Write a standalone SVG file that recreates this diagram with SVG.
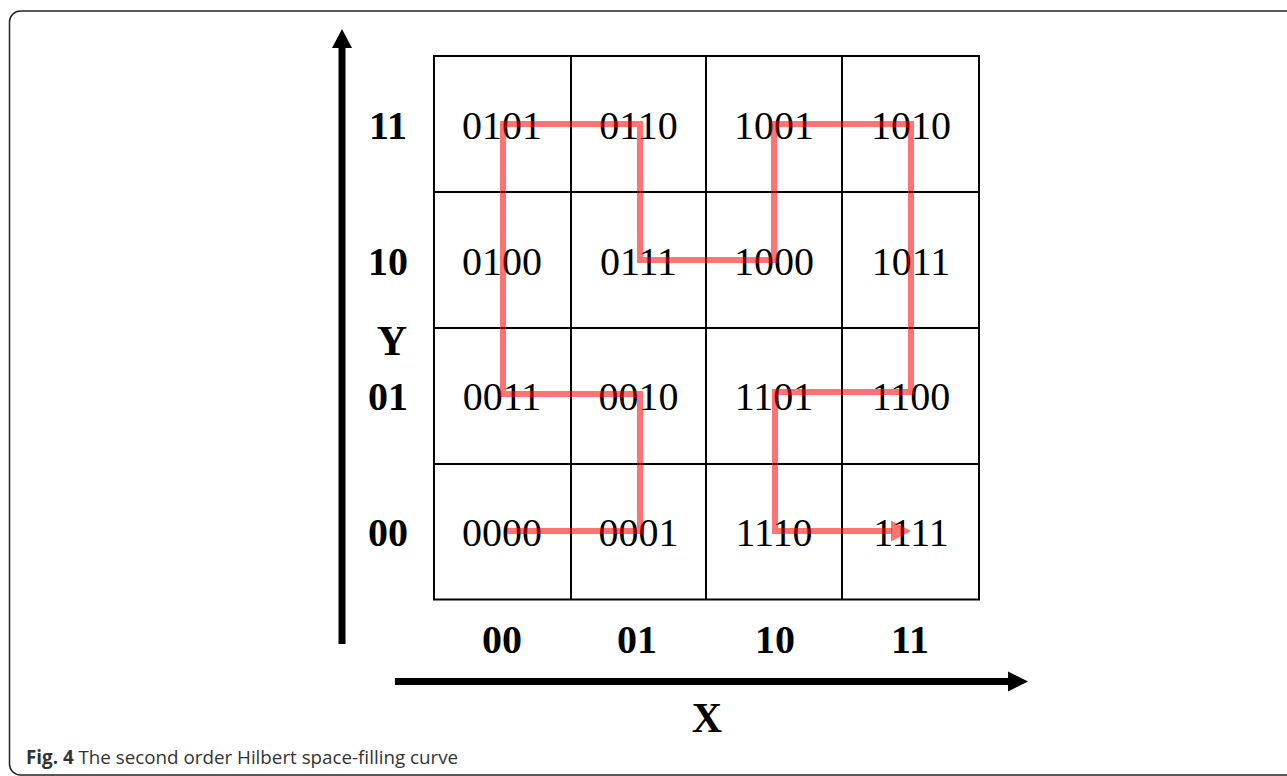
<svg xmlns="http://www.w3.org/2000/svg" width="1287" height="776" viewBox="0 0 1287 776">
  <style>
    .grid { fill: none; stroke: #000; stroke-width: 2; }
    .code { font-family: "Liberation Serif", "Times New Roman", serif; font-size: 40px; fill: #000; text-anchor: middle; }
    .lab { font-family: "Liberation Serif", "Times New Roman", serif; font-size: 40px; font-weight: bold; fill: #000; text-anchor: middle; }
    .axis { font-family: "Liberation Serif", "Times New Roman", serif; font-size: 42px; font-weight: bold; fill: #000; text-anchor: middle; }
    .curve { fill: none; stroke: #ff0000; stroke-opacity: 0.55; stroke-width: 6; stroke-linejoin: miter; }
    .cap { font-family: "Open Sans", "Noto Sans", sans-serif; font-size: 18.8px; fill: #333; }
  </style>
  <rect width="1287" height="776" fill="#fff"/>
  <rect x="9.5" y="11" width="1300" height="764" rx="11" fill="none" stroke="#222" stroke-width="1.5"/>

  <g id="grid">
    <rect class="grid" x="434" y="56" width="545" height="543.5"/>
    <line class="grid" x1="571" y1="56" x2="571" y2="599.5"/>
    <line class="grid" x1="706" y1="56" x2="706" y2="599.5"/>
    <line class="grid" x1="842" y1="56" x2="842" y2="599.5"/>
    <line class="grid" x1="434" y1="192" x2="979" y2="192"/>
    <line class="grid" x1="434" y1="328" x2="979" y2="328"/>
    <line class="grid" x1="434" y1="464" x2="979" y2="464"/>
  </g>

  <g id="cells">
    <text class="code" x="502" y="139">0101</text>
    <text class="code" x="638.5" y="139">0110</text>
    <text class="code" x="774" y="139">1001</text>
    <text class="code" x="911" y="139">1010</text>
    <text class="code" x="502" y="275">0100</text>
    <text class="code" x="638.5" y="275">0111</text>
    <text class="code" x="774" y="275">1000</text>
    <text class="code" x="911" y="275">1011</text>
    <text class="code" x="502" y="410">0011</text>
    <text class="code" x="638.5" y="410">0010</text>
    <text class="code" x="774" y="410">1101</text>
    <text class="code" x="911" y="410">1100</text>
    <text class="code" x="502" y="546">0000</text>
    <text class="code" x="638.5" y="546">0001</text>
    <text class="code" x="774" y="546">1110</text>
    <text class="code" x="911" y="546">1111</text>
  </g>

  <g id="row-labels">
    <text class="lab" x="388" y="139">11</text>
    <text class="lab" x="388" y="275">10</text>
    <text class="lab" x="388" y="410">01</text>
    <text class="lab" x="388" y="546">00</text>
  </g>
  <g id="col-labels">
    <text class="lab" x="502" y="653">00</text>
    <text class="lab" x="637" y="653">01</text>
    <text class="lab" x="775" y="653">10</text>
    <text class="lab" x="910" y="653">11</text>
  </g>

  <g id="axes">
    <line x1="342" y1="46" x2="342" y2="644" stroke="#000" stroke-width="7"/>
    <polygon points="332,48 342,29 352,48" fill="#000"/>
    <line x1="395" y1="681.5" x2="1010" y2="681.5" stroke="#000" stroke-width="7"/>
    <polygon points="1008,671.5 1028,681.5 1008,691.5" fill="#000"/>
    <text class="axis" x="707" y="732">X</text>
    <text class="axis" x="392" y="355">Y</text>
  </g>

  <g id="connectors">
    <polyline class="curve" points="507,531 640,531 640,394 503,394 503,124 640,124 640,260 774,260 774,124 911,124 911,392 775,392 775,531 892,531"/>
    <polygon points="891,520.5 911,531 891,541.5" fill="#ff0000" fill-opacity="0.55"/>
  </g>

  <text class="cap" x="26" y="764"><tspan font-weight="bold">Fig. 4</tspan> The second order Hilbert space-filling curve</text>
</svg>
